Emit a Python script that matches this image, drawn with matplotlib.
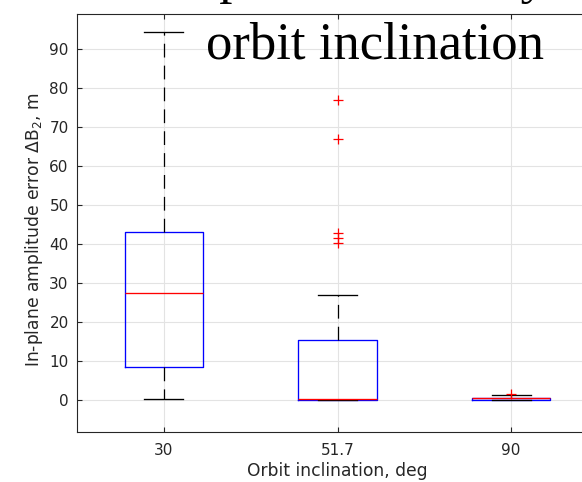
import matplotlib
matplotlib.use('Agg')
import matplotlib.pyplot as plt

# orbit inclinations (deg) and box statistics of in-plane amplitude error, m
inclinations = ['30', '51.7', '90']
lower_whisker = [0.3, 0.0, 0.0]
q1 = [8.4, 0.1, 0.1]
median = [27.5, 0.2, 0.4]
q3 = [43.2, 15.3, 0.5]
upper_whisker = [94.4, 26.9, 1.2]
outliers = [[], [76.9, 66.9, 42.9, 41.6, 40.3], [1.6]]

text_col = '#262626'

stats = []
for i, name in enumerate(inclinations):
    stats.append({'label': name, 'whislo': lower_whisker[i], 'q1': q1[i],
                  'med': median[i], 'q3': q3[i], 'whishi': upper_whisker[i],
                  'fliers': outliers[i]})

fig = plt.figure(figsize=(5.82, 4.82), dpi=100)
ax = fig.add_axes([77 / 582, 50 / 482, 521 / 582, 418 / 482])

ax.bxp(stats, positions=[1, 2, 3], widths=0.45,
       boxprops=dict(color='blue', lw=0.95),
       medianprops=dict(color='red', lw=0.95, zorder=3),
       whiskerprops=dict(color='black', lw=0.9, linestyle=(0, (11, 6.5))),
       capprops=dict(color='black', lw=0.95),
       flierprops=dict(marker='+', markeredgecolor='red', markersize=7.5,
                       markeredgewidth=0.9, linestyle='none'))

ax.set_xlim(0.5, 3.5)
ax.set_ylim(-8.2, 99)
ax.set_yticks(range(0, 100, 10))
ax.set_xticks([1, 2, 3])
ax.set_xticklabels(inclinations)

ax.grid(True, color='#e3e3e3', lw=0.8)
ax.set_axisbelow(True)
ax.tick_params(direction='in', length=3.5, width=0.8, colors=text_col,
               labelsize=11, top=True)
ax.tick_params(axis='x', pad=8)
ax.tick_params(axis='y', pad=6)
for s in ax.spines.values():
    s.set_color(text_col)
    s.set_linewidth(0.8)

ax.set_ylabel(r'In-plane amplitude error $\Delta$B$_2$, m', fontsize=12.3,
              color=text_col)
ax.yaxis.set_label_coords(-0.062, 0.483)
ax.set_xlabel('Orbit inclination, deg', fontsize=12.3, color=text_col,
              labelpad=3)

# slide caption drawn over the figure, first line cut off at the top
fig.text(140 / 582, 1 + 7.5 / 482, 'Amplitude error by', family='Liberation Serif',
         fontsize=38, ha='left', va='baseline', color='black')
fig.text(375 / 582, 1 - 58.5 / 482, 'orbit inclination', family='Liberation Serif',
         fontsize=38, ha='center', va='baseline', color='black')

fig.savefig('out.png', dpi=100)
